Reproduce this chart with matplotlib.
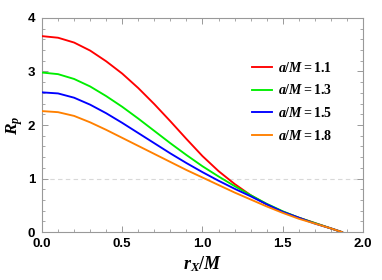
import numpy as np
import matplotlib
matplotlib.use("Agg")
import matplotlib.pyplot as plt
from matplotlib.ticker import MultipleLocator, FormatStrFormatter

plt.rcParams['mathtext.fontset'] = 'custom'
plt.rcParams['mathtext.rm'] = 'Liberation Serif:bold'
plt.rcParams['mathtext.it'] = 'Liberation Serif:italic:bold'
plt.rcParams['mathtext.bf'] = 'Liberation Serif:bold'

# r_X/M grid and R_p
rx = [0.0, 0.1, 0.2, 0.3, 0.4, 0.5, 0.6, 0.7, 0.8, 0.9, 1.0,
      1.1, 1.2, 1.3, 1.4, 1.5, 1.6, 1.7, 1.8, 1.87]
rp_11 = [3.66, 3.63, 3.54, 3.39, 3.19, 2.96, 2.69, 2.39, 2.07, 1.74, 1.42,
         1.14, 0.90, 0.69, 0.52, 0.38, 0.27, 0.17, 0.07, 0.0]
rp_13 = [2.98, 2.95, 2.86, 2.72, 2.54, 2.34, 2.12, 1.89, 1.66, 1.44, 1.23,
         1.04, 0.86, 0.69, 0.53, 0.39, 0.27, 0.17, 0.07, 0.0]
rp_15 = [2.61, 2.59, 2.51, 2.38, 2.22, 2.04, 1.85, 1.66, 1.47, 1.29, 1.12,
         0.96, 0.81, 0.67, 0.52, 0.38, 0.27, 0.16, 0.07, 0.0]
rp_18 = [2.26, 2.24, 2.17, 2.05, 1.91, 1.76, 1.61, 1.46, 1.31, 1.16, 1.02,
         0.88, 0.74, 0.61, 0.48, 0.36, 0.25, 0.16, 0.07, 0.0]
labels = ['1.1', '1.3', '1.5', '1.8']
colors = ['#ff0000', '#00ee00', '#0000ff', '#ff8000']

fig = plt.figure(figsize=(3.82, 2.8), dpi=100)
ax = fig.add_axes([0.110, 0.171, 0.840, 0.765])

ax.axhline(1.0, color='#d8d8d8', lw=0.8, ls=(0, (4, 3)), zorder=1)

for ys, lab, c in zip([rp_11, rp_13, rp_15, rp_18], labels, colors):
    ax.plot(rx, ys, color=c, lw=1.35, label=r'$a/M\mathrm{=' + lab + '}$', zorder=3)

ax.set_xlim(0, 2)
ax.set_ylim(0, 4)
ax.xaxis.set_major_locator(MultipleLocator(0.5))
ax.xaxis.set_minor_locator(MultipleLocator(0.1))
ax.yaxis.set_major_locator(MultipleLocator(1))
ax.yaxis.set_minor_locator(MultipleLocator(0.2))
ax.xaxis.set_major_formatter(FormatStrFormatter('%.1f'))

ax.tick_params(which='both', direction='in', top=True, right=True, color='#999999')
ax.tick_params(which='major', length=4, width=0.7, labelsize=9.5)
ax.tick_params(axis='x', which='major', pad=4)
ax.tick_params(axis='y', which='major', pad=5)
ax.tick_params(which='minor', length=2, width=0.6)
for lbl in ax.get_xticklabels() + ax.get_yticklabels():
    lbl.set_fontfamily('Liberation Sans')
    lbl.set_fontweight('bold')
for sp in ax.spines.values():
    sp.set_color('#999999')
    sp.set_linewidth(0.8)

ax.set_xlabel(r'$r_X/M$', fontsize=13, labelpad=3)
ax.set_ylabel(r'$R_p$', fontsize=12.5, labelpad=2)

ax.legend(loc='upper left', bbox_to_anchor=(0.654, 0.80), frameon=False,
          borderaxespad=0, borderpad=0, fontsize=10, handlelength=1.45,
          handletextpad=0.45, labelspacing=0.62)

fig.savefig('out.png', dpi=100)
